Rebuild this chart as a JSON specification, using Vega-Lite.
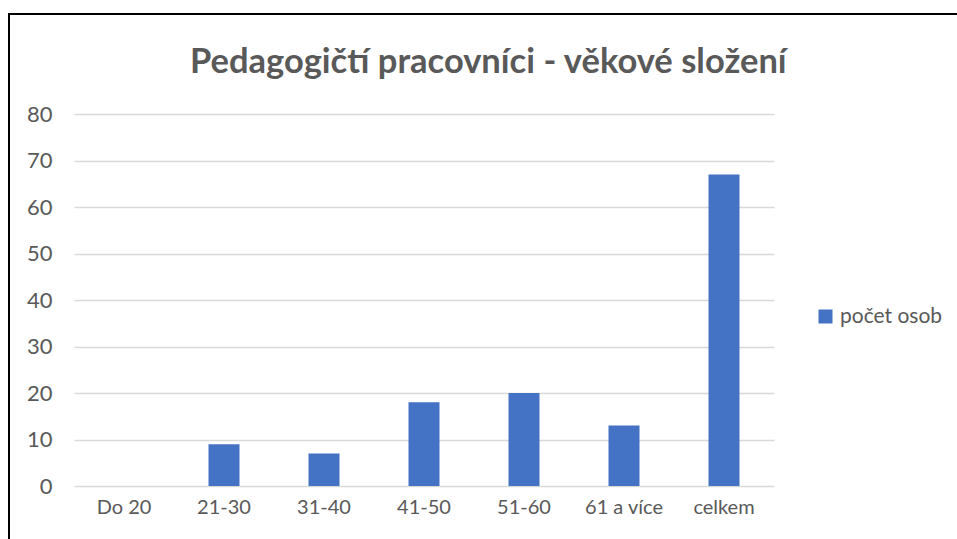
{
  "$schema": "https://vega.github.io/schema/vega-lite/v6.json",
  "width": 954,
  "height": 531,
  "autosize": {"type": "none"},
  "padding": {"left": 9, "top": 14, "right": -6, "bottom": -6},
  "background": "white",
  "title": {
    "text": "Pedagogičtí pracovníci - věkové složení",
    "font": "Lato",
    "fontSize": 34.5,
    "fontWeight": "bold",
    "color": "#595959",
    "anchor": "start",
    "frame": "group",
    "dx": 181,
    "offset": -66
  },
  "data": {
    "values": [
      {"skupina": "Do 20", "pocet": 0},
      {"skupina": "21-30", "pocet": 9},
      {"skupina": "31-40", "pocet": 7},
      {"skupina": "41-50", "pocet": 18},
      {"skupina": "51-60", "pocet": 20},
      {"skupina": "61 a více", "pocet": 13},
      {"skupina": "celkem", "pocet": 67}
    ]
  },
  "mark": {"type": "bar"},
  "encoding": {
    "x": {
      "field": "skupina",
      "type": "nominal",
      "sort": null,
      "scale": {"range": [65, 765], "paddingInner": 0.69, "paddingOuter": 0.345},
      "axis": {
        "title": null,
        "labelAngle": 0,
        "domain": false,
        "ticks": false,
        "grid": false,
        "offset": -59,
        "labelPadding": 11,
        "labelFont": "Lato",
        "labelFontSize": 20,
        "labelColor": "#595959"
      }
    },
    "y": {
      "field": "pocet",
      "type": "quantitative",
      "scale": {"domain": [0, 80], "range": [472, 100], "nice": false},
      "axis": {
        "title": null,
        "values": [0, 10, 20, 30, 40, 50, 60, 70, 80],
        "domain": false,
        "ticks": false,
        "offset": -43,
        "labelPadding": 0,
        "grid": true,
        "gridColor": "#D9D9D9",
        "gridWidth": 1.5,
        "labelFont": "Lato",
        "labelFontSize": 22,
        "labelColor": "#595959"
      }
    },
    "fill": {
      "datum": "počet osob",
      "type": "nominal",
      "scale": {"range": ["#4472C4"]},
      "legend": {
        "orient": "none",
        "legendX": 806,
        "legendY": 292,
        "title": null,
        "symbolType": "square",
        "symbolSize": 196,
        "symbolStrokeWidth": 0,
        "labelFont": "Lato",
        "labelFontSize": 21,
        "labelColor": "#595959",
        "labelOffset": 4
      }
    }
  },
  "config": {"view": {"stroke": "#000000", "strokeWidth": 2}}
}
